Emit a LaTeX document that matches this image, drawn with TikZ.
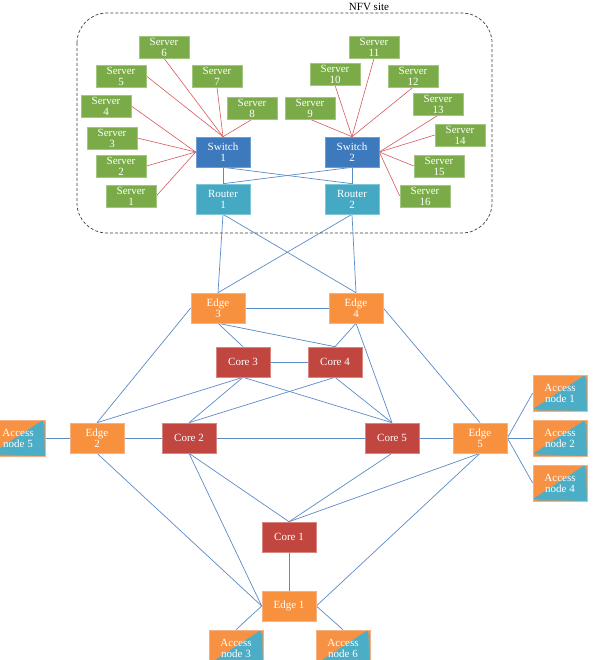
\documentclass[tikz,border=0pt]{standalone}
\usepackage{fontspec}
\setmainfont{Liberation Serif}
\usetikzlibrary{backgrounds}
\definecolor{srvF}{HTML}{7AAB48}
\definecolor{srvB}{HTML}{A3C67F}
\definecolor{swF}{HTML}{3C79BD}
\definecolor{swB}{HTML}{6F9DD2}
\definecolor{rtF}{HTML}{45A9C4}
\definecolor{rtB}{HTML}{80C6D9}
\definecolor{edF}{HTML}{F8913E}
\definecolor{edB}{HTML}{F4B183}
\definecolor{crF}{HTML}{C0463F}
\definecolor{crB}{HTML}{D98580}
\definecolor{acO}{HTML}{F79144}
\definecolor{acT}{HTML}{4BADC6}
\definecolor{lnk}{HTML}{5B8BC6}
\definecolor{rlk}{HTML}{D6585C}
\begin{document}
\begin{tikzpicture}[x=1pt,y=-1pt,
  base/.style={rectangle, inner sep=0pt, text=white, align=center, line width=0.6pt,
    font=\fontsize{11}{11}\selectfont},
  server/.style={base, fill=srvF, draw=srvB, minimum width=50pt, minimum height=22pt},
  switchbox/.style={base, fill=swF, draw=swB, minimum width=54pt, minimum height=30pt},
  routerbox/.style={base, fill=rtF, draw=rtB, minimum width=54pt, minimum height=30pt},
  edgebox/.style={base, fill=edF, draw=edB, minimum width=54pt, minimum height=30pt},
  corebox/.style={base, fill=crF, draw=crB, minimum width=54pt, minimum height=30pt},
  accessbox/.style={base, draw=edB, minimum width=54pt, minimum height=36pt,
    path picture={
      \fill[acO] (path picture bounding box.north west) rectangle (path picture bounding box.south east);
      \fill[acO!50!acT] ([yshift=-2pt]path picture bounding box.south west) -- ([xshift=2pt]path picture bounding box.south east)
        -- ([xshift=2pt,yshift=-2pt]path picture bounding box.north east) -- cycle;
      \fill[acT] ([yshift=2pt]path picture bounding box.south west) -- (path picture bounding box.south east)
        -- ([xshift=-2pt]path picture bounding box.north east) -- cycle;}},
  link/.style={draw=lnk, line width=0.7pt},
  rlink/.style={draw=rlk, line width=0.6pt}]
\useasboundingbox (0,0) rectangle (594,660);
\clip (0,0) rectangle (594,660);

% NFV site frame
\draw[dashed, dash pattern=on 3pt off 2pt, line width=0.7pt, black!75, rounded corners=30pt] (77,13) rectangle (492,233);
\node[font=\fontsize{11}{11}\selectfont] (nfv) at (369,7) {NFV site};

% servers
\node[server] (s1) at (131,196) {Server\\1};
\node[server] (s2) at (121,166) {Server\\2};
\node[server] (s3) at (112,138) {Server\\3};
\node[server] (s4) at (106,106) {Server\\4};
\node[server] (s5) at (121,76) {Server\\5};
\node[server] (s6) at (164,47) {Server\\6};
\node[server] (s7) at (217,76) {Server\\7};
\node[server] (s8) at (252,108) {Server\\8};
\node[server] (s9) at (310,108) {Server\\9};
\node[server] (s10) at (335,74) {Server\\10};
\node[server] (s11) at (374,47) {Server\\11};
\node[server] (s12) at (413,76) {Server\\12};
\node[server] (s13) at (438,104) {Server\\13};
\node[server] (s14) at (460,135) {Server\\14};
\node[server] (s15) at (439,166) {Server\\15};
\node[server] (s16) at (425,196) {Server\\16};

\node[switchbox] (sw1) at (223,152) {Switch\\1};
\node[switchbox] (sw2) at (352,152) {Switch\\2};
\node[routerbox] (r1) at (223,199) {Router\\1};
\node[routerbox] (r2) at (352,199) {Router\\2};

\node[edgebox] (e3) at (218,308) {Edge\\3};
\node[edgebox] (e4) at (356,308) {Edge\\4};
\node[corebox] (c3) at (243,362) {Core 3};
\node[corebox] (c4) at (335,362) {Core 4};
\node[accessbox] (a5) at (18,438) {Access\\node 5};
\node[edgebox] (e2) at (97,438) {Edge\\2};
\node[corebox] (c2) at (189,438) {Core 2};
\node[corebox] (c5) at (392,438) {Core 5};
\node[edgebox] (e5) at (480,438) {Edge\\5};
\node[accessbox] (a1) at (560,393) {Access\\node 1};
\node[accessbox] (a2) at (560,438) {Access\\node 2};
\node[accessbox] (a4) at (560,483) {Access\\node 4};
\node[corebox] (c1) at (289,537) {Core 1};
\node[edgebox] (e1) at (289,606) {Edge 1};
\node[accessbox] (a3) at (236,648) {Access\\node 3};
\node[accessbox] (a6) at (343,648) {Access\\node 6};

\begin{scope}[on background layer]
% server links
\foreach \s in {s6,s7,s8} \draw[rlink] (\s.south) -- (sw1.north);
\draw[rlink] (s5.east) -- (sw1.north);
\foreach \s in {s1,s2,s3,s4} \draw[rlink] (\s.east) -- (sw1.west);
\foreach \s in {s9,s10,s11,s12} \draw[rlink] (\s.south) -- (sw2.north);
\draw[rlink] (s13.south) -- (sw2.east);
\foreach \s in {s14,s15,s16} \draw[rlink] (\s.west) -- (sw2.east);
% NFV internal
\draw[link] (sw1) -- (r1);
\draw[link] (sw2) -- (r2);
\draw[link] (sw1.south) -- (r2.north);
\draw[link] (sw2.south) -- (r1.north);
% routers to edges
\draw[link] (r1.south) -- (e3.north);
\draw[link] (r1.south) -- (e4.north);
\draw[link] (r2.south) -- (e3.north);
\draw[link] (r2.south) -- (e4.north);
% mesh
\draw[link] (e3) -- (e4);
\draw[link] (e3.south) -- (c3.north);
\draw[link] (e3.south) -- (c4.north);
\draw[link] (e3.west) -- (e2.north);
\draw[link] (e4.south) -- (c4.north);
\draw[link] (e4.south) -- (c5.north);
\draw[link] (e4.east) -- (e5.north);
\draw[link] (c3) -- (c4);
\draw[link] (c3.south) -- (e2.north);
\draw[link] (c3.south) -- (c2.north);
\draw[link] (c3.south) -- (c5.north);
\draw[link] (c4.south) -- (c2.north);
\draw[link] (c4.south) -- (c5.north);
\draw[link] (a5) -- (e2);
\draw[link] (e2) -- (c2);
\draw[link] (c2) -- (c5);
\draw[link] (c5) -- (e5);
\draw[link] (e5.east) -- (a1.west);
\draw[link] (e5.east) -- (a2.west);
\draw[link] (e5.east) -- (a4.west);
\draw[link] (e2.south) -- (e1.west);
\draw[link] (c2.south) -- (e1.west);
\draw[link] (c2.south) -- (c1.north);
\draw[link] (c5.south) -- (c1.north);
\draw[link] (e5.south) -- (c1.north);
\draw[link] (e5.south) -- (e1.east);
\draw[link] (c1) -- (e1);
\draw[link] (e1.west) -- (a3.north);
\draw[link] (e1.east) -- (a6.north);
\end{scope}
\end{tikzpicture}
\end{document}
